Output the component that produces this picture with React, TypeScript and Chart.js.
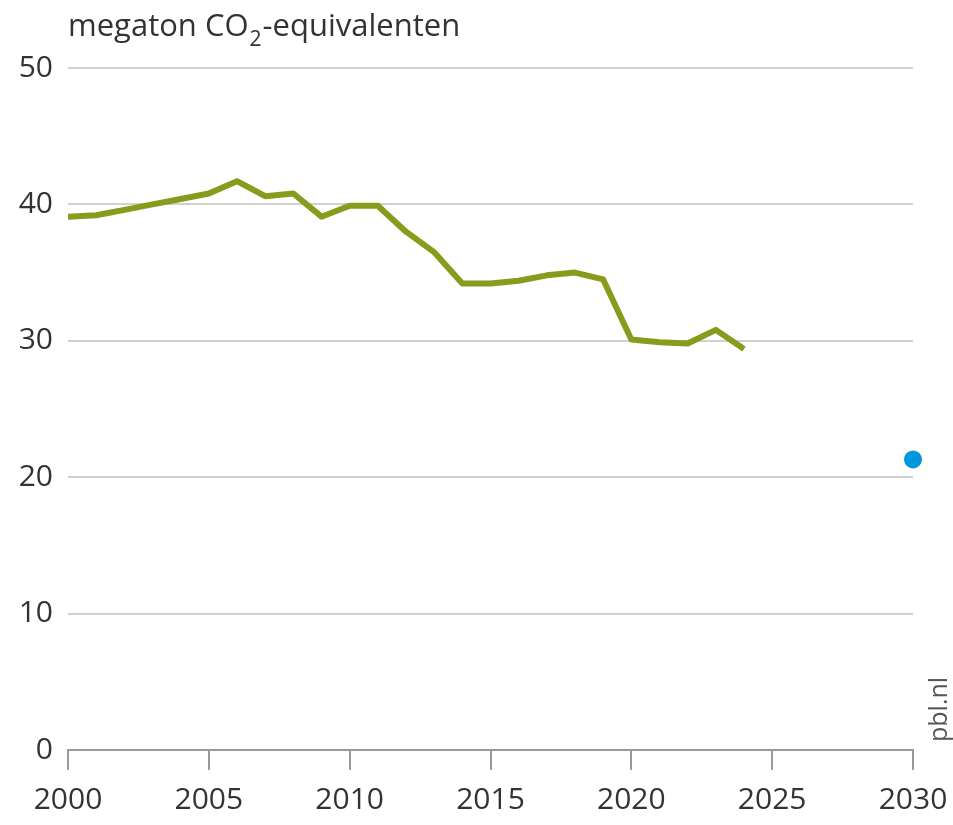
import React, { useEffect, useRef } from "react";
import { Chart, registerables } from "chart.js";

Chart.register(...registerables);

const years = [2000, 2001, 2002, 2003, 2004, 2005, 2006, 2007, 2008, 2009, 2010, 2011, 2012, 2013, 2014, 2015, 2016, 2017, 2018, 2019, 2020, 2021, 2022, 2023, 2024];
const emissions = [39.1, 39.2, 39.6, 40.0, 40.4, 40.8, 41.7, 40.6, 40.8, 39.1, 39.9, 39.9, 38.0, 36.5, 34.2, 34.2, 34.4, 34.8, 35.0, 34.5, 30.1, 29.9, 29.8, 30.8, 29.4];
const targetYear = [2030];
const targetValue = [21.3];
const titleParts = ["megaton CO", "2", "-equivalenten"];
const sourceLabel = "pbl.nl";

const FONT = "'Open Sans', sans-serif";
const TEXT = "#333333";

const textPlugin = {
  id: "texts",
  afterDraw(chart: any) {
    const ctx = chart.ctx;
    const area = chart.chartArea;
    ctx.save();
    ctx.fillStyle = TEXT;
    ctx.textBaseline = "alphabetic";
    ctx.textAlign = "left";
    let x = area.left;
    const base = 36;
    ctx.font = `31px ${FONT}`;
    ctx.fillText(titleParts[0], x, base);
    x += ctx.measureText(titleParts[0]).width + 1;
    ctx.font = `21px ${FONT}`;
    ctx.fillText(titleParts[1], x, base + 10);
    x += ctx.measureText(titleParts[1]).width + 1;
    ctx.font = `31px ${FONT}`;
    ctx.fillText(titleParts[2], x, base);
    // source label, rotated
    ctx.translate(947, area.bottom - 8);
    ctx.rotate(-Math.PI / 2);
    ctx.font = `25px ${FONT}`;
    ctx.fillStyle = "#555555";
    ctx.textAlign = "left";
    ctx.textBaseline = "alphabetic";
    ctx.fillText(sourceLabel, 0, 0);
    ctx.restore();
  },
};

export default function App() {
  const ref = useRef<HTMLCanvasElement>(null);
  useEffect(() => {
    if (!ref.current) return;
    const chart = new Chart(ref.current, {
      type: "line",
      data: {
        datasets: [
          {
            data: years.map((y, i) => ({ x: y, y: emissions[i] })),
            borderColor: "#8a9a1c",
            borderWidth: 6,
            pointRadius: 0,
            tension: 0,
            fill: false,
            borderJoinStyle: "round",
          },
          {
            data: targetYear.map((y, i) => ({ x: y, y: targetValue[i] })),
            showLine: false,
            pointRadius: 9,
            pointBackgroundColor: "#0096db",
            pointBorderColor: "#0096db",
            pointBorderWidth: 0,
            clip: false,
          },
        ],
      },
      options: {
        responsive: false,
        animation: false,
        events: [],
        layout: { padding: { top: 68, right: 40, left: 0, bottom: 0 } },
        plugins: { legend: { display: false }, tooltip: { enabled: false } },
        scales: {
          x: {
            type: "linear",
            min: 2000,
            max: 2030,
            afterFit: (s: any) => { s.height = 75; s.paddingRight = 0; s.paddingLeft = 0; },
            ticks: {
              stepSize: 5,
              color: TEXT,
              font: { family: FONT, size: 30 },
              padding: 12,
              maxRotation: 0,
              callback: (v: any) => String(v),
            },
            grid: {
              drawOnChartArea: false,
              drawTicks: true,
              tickLength: 20,
              color: "#9a9a9a",
              lineWidth: 2,
            },
            border: { display: true, color: "#9a9a9a", width: 2 },
          },
          y: {
            min: 0,
            max: 50,
            afterFit: (s: any) => { s.width = 68; s.paddingTop = 0; s.paddingBottom = 0; },
            ticks: {
              stepSize: 10,
              color: TEXT,
              font: { family: FONT, size: 30 },
              padding: 15,
            },
            grid: {
              drawTicks: false,
              color: "#d0d0d0",
              lineWidth: 2,
            },
            border: { display: false },
          },
        },
      },
      plugins: [textPlugin],
    });
    return () => chart.destroy();
  }, []);
  return (
    <div style={{ position: "fixed", left: 0, top: 0, width: 953, height: 825, background: "#fff" }}>
      <canvas ref={ref} width={953} height={825} />
    </div>
  );
}
